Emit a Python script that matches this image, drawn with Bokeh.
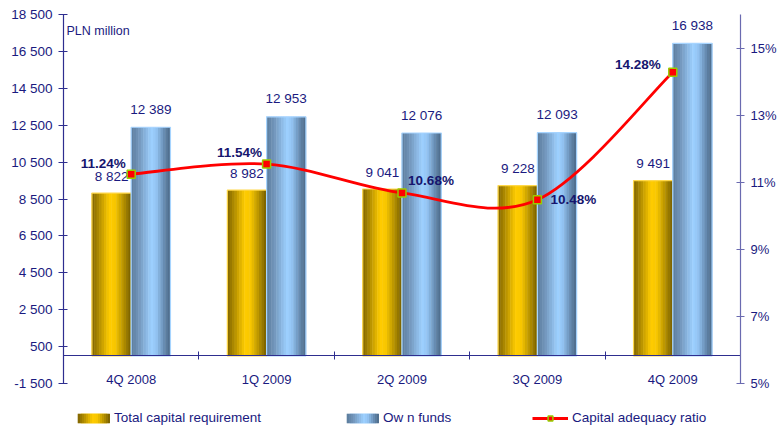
import numpy as np
from bokeh.plotting import figure
from bokeh.models import (Range1d, LinearAxis, FixedTicker, Legend, LegendItem,
                          Label, ColumnDataSource)
from bokeh.core.properties import value
from bokeh.embed import file_html
from bokeh.resources import INLINE

# ---------------- data ----------------
categories = ["4Q 2008", "1Q 2009", "2Q 2009", "3Q 2009", "4Q 2009"]
total_capital_requirement = [8822, 8982, 9041, 9228, 9491]
own_funds = [12389, 12953, 12076, 12093, 16938]
capital_adequacy_ratio = [11.24, 11.54, 10.68, 10.48, 14.28]
series_names = ["Total capital requirement", "Ow n funds", "Capital adequacy ratio"]

left_ticks = [-1500, 500, 2500, 4500, 6500, 8500, 10500, 12500, 14500, 16500, 18500]
left_tick_labels = ["-1 500", "500", "2 500", "4 500", "6 500", "8 500", "10 500",
                    "12 500", "14 500", "16 500", "18 500"]
right_ticks = [5, 7, 9, 11, 13, 15]
right_tick_labels = ["5%", "7%", "9%", "11%", "13%", "15%"]

# ---------------- style ----------------
FONT = "Liberation Sans"
NAVY = "#1a1a80"
NAVY_DARK = "#15156e"
AXIS_L = "#2e2e8f"
AXIS_R = "#6a6ab0"

W = 0.29          # bar width in category units
N = 16            # gradient strips per bar
yellow_stops = [(0.0, "#7f6400"), (0.18, "#b08c00"), (0.45, "#ffcc00"),
                (0.6, "#f7c600"), (0.85, "#a88600"), (1.0, "#765e00")]
blue_stops = [(0.0, "#5b7c9c"), (0.2, "#7296bb"), (0.52, "#9dd0ff"),
              (0.65, "#92c3f2"), (0.88, "#5f82a6"), (1.0, "#4c6a88")]
# percent-label offsets in screen px (dx, dy)
pct_label_offsets = [(-28, -11), (-27, -12), (29, -12), (36, 0), (-35, -8)]
# legend item positions (frame px from left) and geometry
legend_x = [14, 283, 469]
legend_y = 3
SWATCH_W = 2      # px per gradient strip in legend swatch

PLOT_W, PLOT_H = 779, 428
BORDER_L, BORDER_R, BORDER_T = 63, 39, 14
PX_PER_UNIT = 369.0 / 20000.0


def hex2rgb(h):
    h = h.lstrip("#")
    return np.array([int(h[i:i + 2], 16) for i in (0, 2, 4)], dtype=float)


def grad(stops, t):
    for (t0, c0), (t1, c1) in zip(stops[:-1], stops[1:]):
        if t0 <= t <= t1:
            f = (t - t0) / (t1 - t0)
            c = hex2rgb(c0) * (1 - f) + hex2rgb(c1) * f
            return "#%02x%02x%02x" % tuple(int(round(v)) for v in c)
    return stops[-1][1]


LEFT_TOP = 18500
LEFT_BOTTOM = LEFT_TOP - (PLOT_H - BORDER_T) / PX_PER_UNIT


def to_pct(v):
    # -1500 <-> 5%, 18500 <-> 16%
    return 5 + (v - (-1500)) * 11.0 / 20000.0


p = figure(width=PLOT_W, height=PLOT_H, output_backend="svg", toolbar_location=None,
           x_range=Range1d(-0.5, 4.5), y_range=Range1d(LEFT_BOTTOM, LEFT_TOP),
           min_border_left=BORDER_L, min_border_right=BORDER_R,
           min_border_top=BORDER_T, min_border_bottom=0)
p.extra_y_ranges = {"pct": Range1d(to_pct(LEFT_BOTTOM), to_pct(LEFT_TOP))}
p.outline_line_color = None
p.xgrid.grid_line_color = None
p.ygrid.grid_line_color = None
p.background_fill_color = "white"
p.border_fill_color = "white"

idx = np.arange(len(categories))

# ---------------- bars with gradient ----------------
def gradient_bars(offset, vals, stops, outline):
    rends = []
    for j in range(N):
        t = (j + 0.5) / N
        xs = idx + offset - W / 2 + (j + 0.5) * W / N
        r = p.vbar(x=xs, top=vals, bottom=0, width=W / N * 1.2,
                   fill_color=grad(stops, t), line_color=None)
        rends.append(r)
    p.vbar(x=idx + offset, top=vals, bottom=0, width=W, fill_color=None,
           line_color=outline, line_width=1.2)
    return rends

y_rends = gradient_bars(-W / 2, total_capital_requirement, yellow_stops, "#ffd84a")
b_rends = gradient_bars(W / 2, own_funds, blue_stops, "#a6d4ff")

def fmt(v):
    return f"{v:,}".replace(",", " ")

p.text(x=idx - W / 2, y=total_capital_requirement,
       text=[fmt(v) for v in total_capital_requirement],
       text_align="center", text_baseline="middle", y_offset=-17,
       text_font=value(FONT), text_font_size="13.5px", text_color=NAVY)
p.text(x=idx + W / 2, y=own_funds, text=[fmt(v) for v in own_funds],
       text_align="center", text_baseline="middle", y_offset=-18,
       text_font=value(FONT), text_font_size="13.5px", text_color=NAVY)

# ---------------- smoothed ratio line (Catmull-Rom -> bezier) ----------------
ys = np.array(capital_adequacy_ratio, dtype=float)
xs = idx.astype(float)
n = len(xs)
mx = np.zeros(n); my = np.zeros(n)
for i in range(n):
    a = max(i - 1, 0); b = min(i + 1, n - 1)
    mx[i] = (xs[b] - xs[a]) / 2.0
    my[i] = (ys[b] - ys[a]) / 2.0
bz = dict(x0=xs[:-1], y0=ys[:-1], x1=xs[1:], y1=ys[1:],
          cx0=xs[:-1] + mx[:-1] / 3, cy0=ys[:-1] + my[:-1] / 3,
          cx1=xs[1:] - mx[1:] / 3, cy1=ys[1:] - my[1:] / 3)
line_r = p.bezier(source=ColumnDataSource(bz), x0="x0", y0="y0", x1="x1", y1="y1",
                  cx0="cx0", cy0="cy0", cx1="cx1", cy1="cy1",
                  line_color="#ff0000", line_width=2.8, y_range_name="pct")
mark_r = p.scatter(x=xs, y=ys, marker="square", size=8, fill_color="#ff0000",
                   line_color="#99cc00", line_width=1.5, y_range_name="pct")

p.text(x=xs, y=ys, text=[f"{v:.2f}%" for v in capital_adequacy_ratio],
       x_offset=[o[0] for o in pct_label_offsets],
       y_offset=[o[1] for o in pct_label_offsets],
       text_align="center", text_baseline="middle", text_font_style="bold",
       text_font=value(FONT), text_font_size="13.5px", text_color=NAVY_DARK,
       y_range_name="pct")

# ---------------- axes ----------------
xa = p.xaxis[0]
xa.fixed_location = 0
xa.ticker = FixedTicker(ticks=list(idx), minor_ticks=[-0.5, 0.5, 1.5, 2.5, 3.5, 4.5])
xa.major_label_overrides = {int(i): c for i, c in zip(idx, categories)}
xa.axis_line_color = AXIS_L
xa.axis_line_width = 1.2
xa.major_tick_in = 0
xa.major_tick_out = 0
xa.minor_tick_in = 4
xa.minor_tick_out = 4
xa.minor_tick_line_color = AXIS_L
xa.major_label_standoff = 12
xa.major_label_text_font = FONT
xa.major_label_text_font_size = "13px"
xa.major_label_text_color = NAVY

ya = p.yaxis[0]
ya.ticker = FixedTicker(ticks=left_ticks)
ya.major_label_overrides = {t: l for t, l in zip(left_ticks, left_tick_labels)}
ya.bounds = (left_ticks[0], left_ticks[-1])
ya.axis_line_color = AXIS_L
ya.axis_line_width = 1.2
ya.major_tick_line_color = AXIS_L
ya.major_tick_in = 4
ya.major_tick_out = 5
ya.minor_tick_line_color = None
ya.major_label_standoff = 6
ya.major_label_text_font = FONT
ya.major_label_text_font_size = "13.5px"
ya.major_label_text_color = NAVY

ra = LinearAxis(y_range_name="pct", ticker=FixedTicker(ticks=right_ticks),
                bounds=(5, 16))
ra.major_label_overrides = {t: l for t, l in zip(right_ticks, right_tick_labels)}
ra.axis_line_color = AXIS_R
ra.axis_line_width = 1.2
ra.major_tick_line_color = AXIS_R
ra.major_tick_in = 4
ra.major_tick_out = 4
ra.minor_tick_line_color = None
ra.major_label_standoff = 6
ra.major_label_text_font = FONT
ra.major_label_text_font_size = "13px"
ra.major_label_text_color = NAVY
p.add_layout(ra, "right")

p.add_layout(Label(x=-0.5, y=LEFT_TOP, x_offset=3, y_offset=-16, text="PLN million",
                   text_baseline="middle", text_font=FONT, text_font_size="12.5px",
                   text_color=NAVY))

# ---------------- legend ----------------
common = dict(orientation="horizontal", glyph_height=12, label_height=14,
              padding=0, margin=0, border_line_color=None, background_fill_alpha=0,
              label_text_font=FONT, label_text_font_size="13.5px",
              label_text_color=NAVY)

legend_renderers = [[y_rends[N // 2]], [b_rends[N // 2]], [line_r, mark_r]]
for k, (name, rr) in enumerate(zip(series_names, legend_renderers)):
    gw = N * SWATCH_W + 1 if k < 2 else 36
    p.add_layout(Legend(items=[LegendItem(label=name, renderers=rr)],
                        location=(legend_x[k], legend_y), glyph_width=gw,
                        label_standoff=4, **common))

# gradient swatches drawn over the bar legend glyphs (two passes, 1px apart,
# so the strips close up without gaps)
for k, rends in enumerate([y_rends, b_rends]):
    for shift in (0, 1):
        p.add_layout(Legend(items=[LegendItem(label="", renderers=[r]) for r in rends],
                            location=(legend_x[k] + shift, legend_y),
                            glyph_width=SWATCH_W, label_standoff=0, label_width=0,
                            spacing=0, **common))

open("out.html", "w").write(file_html(p, INLINE))
